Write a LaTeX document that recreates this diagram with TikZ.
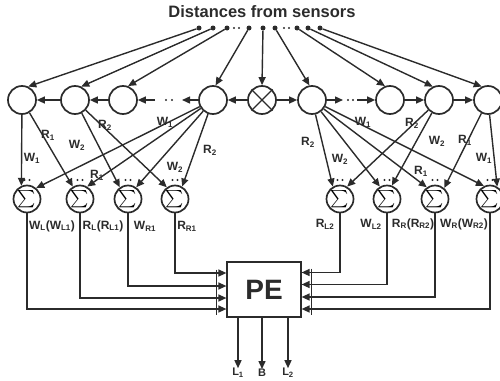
\documentclass[tikz,border=0pt]{standalone}
\usepackage{amsmath}
\usepackage{fontspec}
\setmainfont{Liberation Sans}
\usetikzlibrary{arrows.meta,positioning,calc}
\definecolor{inkgray}{HTML}{2B2B2B}
\newcommand{\idx}[1]{\textsubscript{#1}}
\tikzset{
  cell/.style={circle,draw=inkgray,line width=1.7pt,minimum size=28pt,inner sep=0pt},
  sumcell/.style={cell,minimum size=27pt,font=\LARGE},
  sensor/.style={circle,fill=inkgray,inner sep=0pt,minimum size=5pt},
  tinydot/.style={circle,fill=inkgray,inner sep=0pt,minimum size=2.4pt},
  lbl/.style={font=\fontsize{12}{12}\selectfont\bfseries,text=inkgray,inner sep=0pt},
  outlbl/.style={lbl,font=\fontsize{11}{11}\selectfont\bfseries},
  pebox/.style={draw=inkgray,line width=1.2pt,minimum width=74pt,minimum height=55pt,text=inkgray,font=\fontsize{28}{28}\selectfont\bfseries},
  flow/.style={-{Triangle[length=8pt,width=7pt]},line width=1.4pt,draw=inkgray},
  wire/.style={line width=1.4pt,draw=inkgray}
}

\begin{document}
\begin{tikzpicture}[x=1pt,y=-1pt]
  \useasboundingbox (0,0) rectangle (500,380);
  \node[lbl,font=\fontsize{16.5}{16.5}\selectfont\bfseries] (title) at (262,12) {Distances from sensors};

  % sensor taps
  \foreach \name/\xx in {d1/199,d2/213,d3/227,d4/249,d5/263,d6/275,d7/297,d8/308,d9/320}
    \node[sensor] (\name) at (\xx,28) {};
  \foreach \xx in {234,239,284,289}
    \node[tinydot] (gap\xx) at (\xx,28) {};

  % delay line
  \node[cell] (c1) at (22,100) {};
  \node[cell] (c2) at (75,100) {};
  \node[cell] (c3) at (123,100) {};
  \node[cell] (c4) at (213,100) {};
  \node[cell] (cx) at (262,100) {};
  \node[cell] (c5) at (312,100) {};
  \node[cell] (c6) at (390,100) {};
  \node[cell] (c7) at (439,100) {};
  \node[cell] (c8) at (488,100) {};
  \draw[wire] (cx.45) -- (cx.225) (cx.135) -- (cx.315);

  \draw[flow] (d1) -- (c1.65);
  \draw[flow] (d2) -- (c2.65);
  \draw[flow] (d3) -- (c3.70);
  \draw[flow] (d4) -- (c4.80);
  \draw[flow] (d5) -- (cx.north);
  \draw[flow] (d6) -- (c5.100);
  \draw[flow] (d7) -- (c6.110);
  \draw[flow] (d8) -- (c7.115);
  \draw[flow] (d9) -- (c8.115);

  \coordinate (hl1) at (182,100);
  \coordinate (hl2) at (155,100);
  \coordinate (hr1) at (343,100);
  \coordinate (hr2) at (357,100);
  \foreach \xx in {166,172,348,353}
    \node[tinydot] (skip\xx) at (\xx,100) {};
  \draw[flow] (c2) -- (c1);
  \draw[flow] (c3) -- (c2);
  \draw[flow] (c4) -- (hl1);
  \draw[flow] (hl2) -- (c3);
  \draw[flow] (cx) -- (c4);
  \draw[flow] (cx) -- (c5);
  \draw[flow] (c5) -- (hr1);
  \draw[flow] (hr2) -- (c6);
  \draw[flow] (c6) -- (c7);
  \draw[flow] (c7) -- (c8);

  % summing nodes
  \foreach \name/\xx in {s1/27,s2/80,s3/128,s4/175,s5/340,s6/387,s7/435,s8/490} {
    \node[sumcell] (\name) at (\xx,199) {$\sum$};
    \node[tinydot] (\name a) at (\xx-2.5,180) {};
    \node[tinydot] (\name b) at (\xx+2.5,180) {};
  }

  \draw[flow] (c1) -- (s1.113);
  \draw[flow] (c1) -- (s2.120);
  \draw[flow] (c2) -- (s3.125);
  \draw[flow] (c2) -- (s4.125);
  \draw[flow] (c4) -- (s1.50);
  \draw[flow] (c4) -- (s2.60);
  \draw[flow] (c4) -- (s3.55);
  \draw[flow] (c4) -- (s4.60);
  \draw[flow] (c5) -- (s5.120);
  \draw[flow] (c5) -- (s6.120);
  \draw[flow] (c5) -- (s7.125);
  \draw[flow] (c5) -- (s8.115);
  \draw[flow] (c7) -- (s5.60);
  \draw[flow] (c7) -- (s6.70);
  \draw[flow] (c8) -- (s7.50);
  \draw[flow] (c8) -- (s8.60);

  \node[lbl] (lw1a) at (32,158) {W\idx{1}};
  \node[lbl] (lr1a) at (48,135) {R\idx{1}};
  \node[lbl] (lw2a) at (77,145) {W\idx{2}};
  \node[lbl] (lr2a) at (105,125) {R\idx{2}};
  \node[lbl] (lw1b) at (165,122) {W\idx{1}};
  \node[lbl] (lr1b) at (97,175) {R\idx{1}};
  \node[lbl] (lw2b) at (175,167) {W\idx{2}};
  \node[lbl] (lr2b) at (210,150) {R\idx{2}};
  \node[lbl] (lw1c) at (363,122) {W\idx{1}};
  \node[lbl] (lr2c) at (412,123) {R\idx{2}};
  \node[lbl] (lr2d) at (308,142) {R\idx{2}};
  \node[lbl] (lw2c) at (340,159) {W\idx{2}};
  \node[lbl] (lw2d) at (437,141) {W\idx{2}};
  \node[lbl] (lr1c) at (465,140) {R\idx{1}};
  \node[lbl] (lw1d) at (484,158) {W\idx{1}};
  \node[lbl] (lr1d) at (421,171) {R\idx{1}};

  \node[lbl] (o1) at (52,226) {W\idx{L}(W\idx{L1})};
  \node[lbl] (o2) at (103,226) {R\idx{L}(R\idx{L1})};
  \node[lbl] (o3) at (145,226) {W\idx{R1}};
  \node[lbl] (o4) at (187,226) {R\idx{R1}};
  \node[lbl] (o5) at (325,224) {R\idx{L2}};
  \node[lbl] (o6) at (371,224) {W\idx{L2}};
  \node[lbl] (o7) at (413,224) {R\idx{R}(R\idx{R2})};
  \node[lbl] (o8) at (464,224) {W\idx{R}(W\idx{R2})};

  % processing element
  \node[pebox] (pe) at (264,289.5) {PE};
  \draw[flow] (s4) |- ([yshift=16.5pt]pe.west);
  \draw[flow] (s3) |- ([yshift=3.5pt]pe.west);
  \draw[flow] (s2) |- ([yshift=-8.5pt]pe.west);
  \draw[flow] (s1) |- ([yshift=-19.5pt]pe.west);
  \draw[flow] (s5) |- ([yshift=17pt]pe.east);
  \draw[flow] (s6) |- ([yshift=5pt]pe.east);
  \draw[flow] (s7) |- ([yshift=-7.5pt]pe.east);
  \draw[flow] (s8) |- ([yshift=-19.5pt]pe.east);
  \draw[wire] ([xshift=-10pt,yshift=20pt]pe.west) -- ([xshift=-10pt,yshift=-25pt]pe.west);
  \draw[wire] ([xshift=10pt,yshift=21pt]pe.east) -- ([xshift=10pt,yshift=-25pt]pe.east);

  \node[outlbl] (l1) at (238,373) {L\idx{1}};
  \node[outlbl] (bb) at (262,373) {B};
  \node[outlbl] (l2) at (288,373) {L\idx{2}};
  \draw[flow] (l1 |- pe.south) -- (l1.north);
  \draw[flow] (bb |- pe.south) -- (bb.north);
  \draw[flow] (l2 |- pe.south) -- (l2.north);
\end{tikzpicture}
\end{document}
